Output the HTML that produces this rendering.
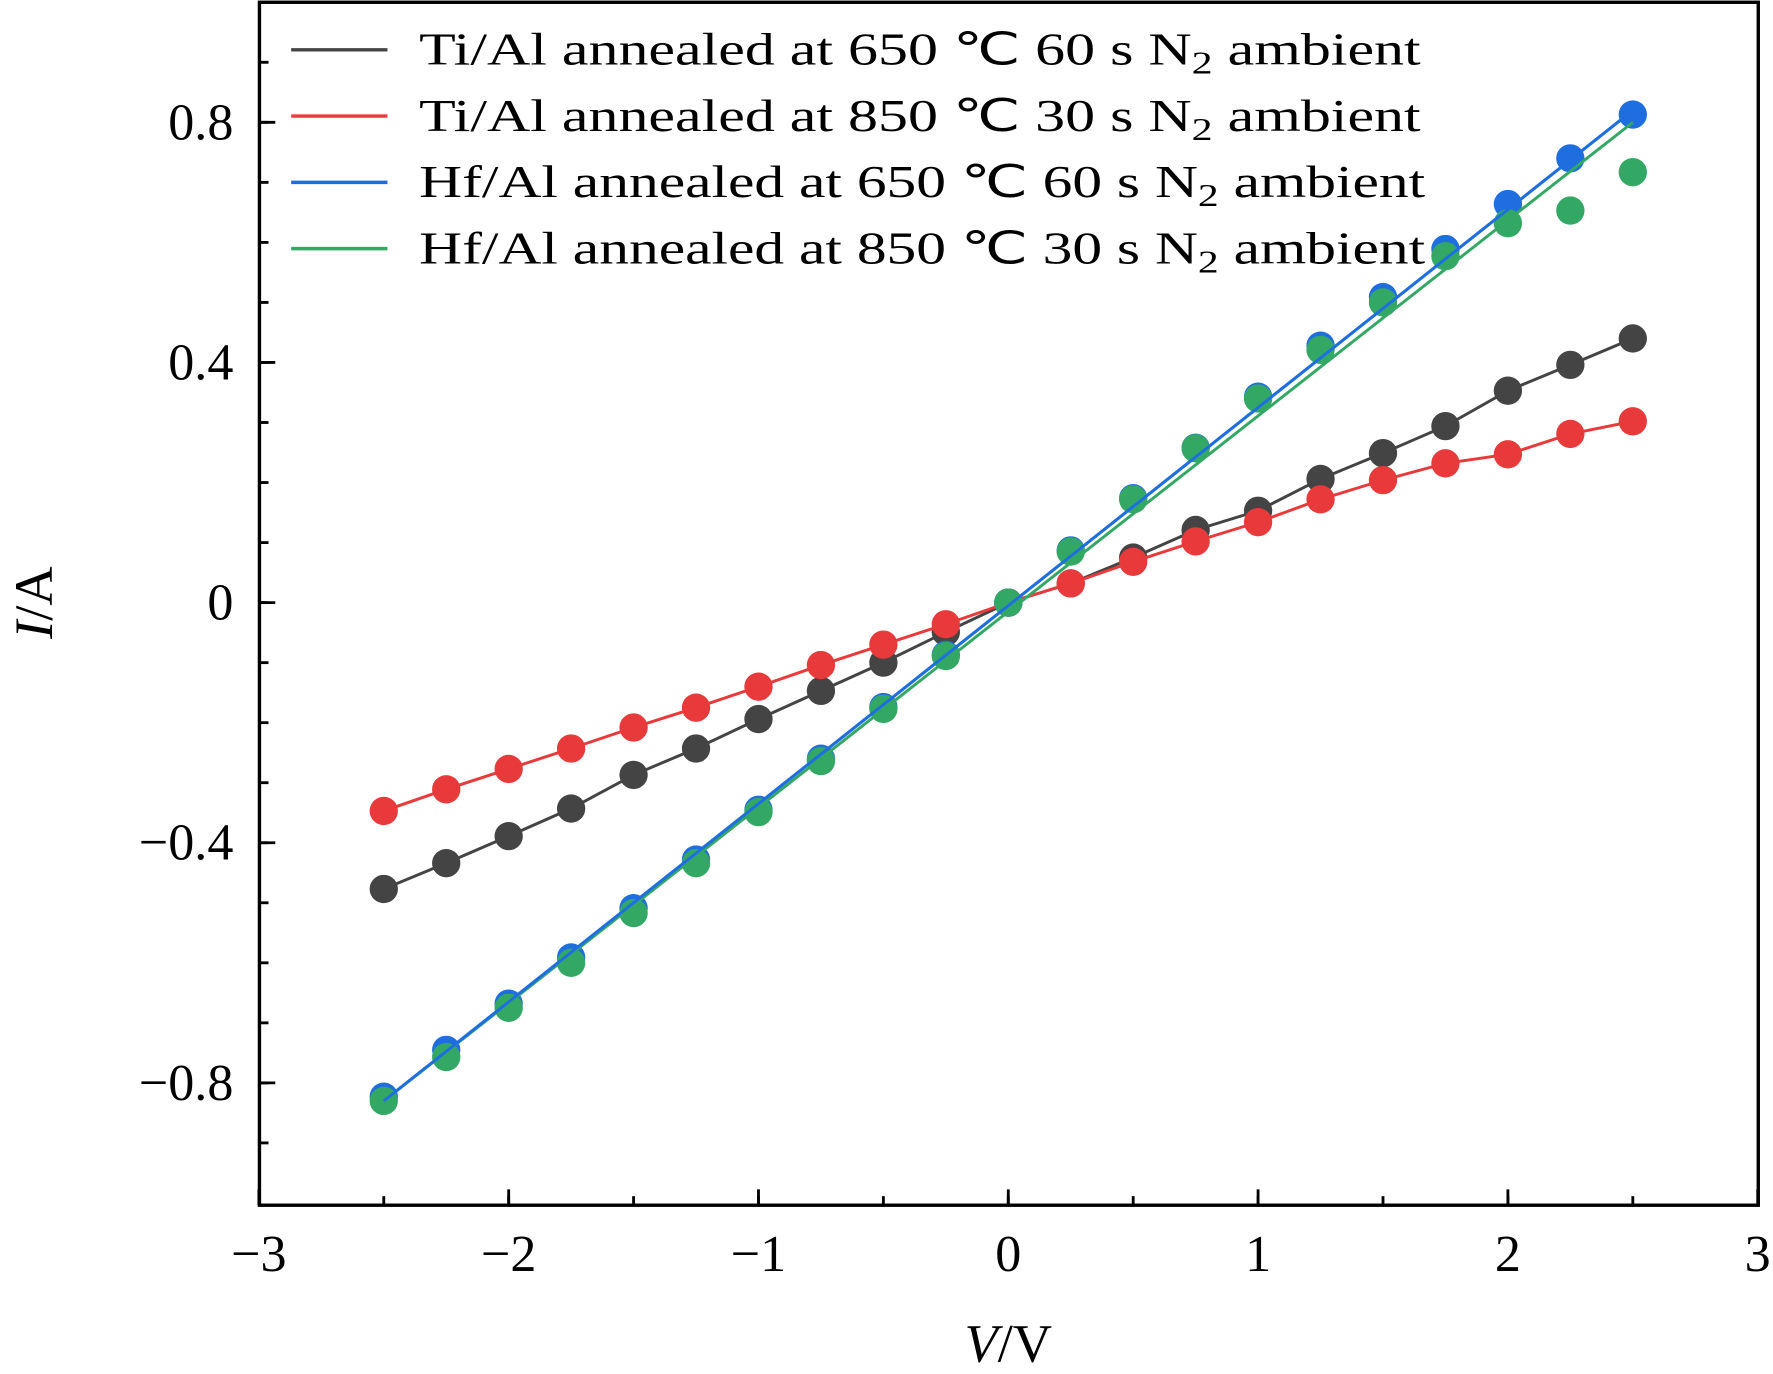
<!DOCTYPE html>
<html><head><meta charset="utf-8"><style>html,body{margin:0;padding:0;background:#fff}svg{display:block}</style></head>
<body>
<svg id="chart" width="1773" height="1374" viewBox="0 0 1565 1213" preserveAspectRatio="none" xmlns="http://www.w3.org/2000/svg" font-family="'Liberation Serif', serif">
</svg>
<script>
const voltages = [-2.5,-2.25,-2,-1.75,-1.5,-1.25,-1,-0.75,-0.5,-0.25,0,0.25,0.5,0.75,1,1.25,1.5,1.75,2,2.25,2.5];
const tiAl650 = [-0.477,-0.434,-0.389,-0.343,-0.287,-0.243,-0.194,-0.147,-0.100,-0.049,0,0.032,0.075,0.121,0.153,0.206,0.249,0.294,0.353,0.396,0.440];
const tiAl850 = [-0.347,-0.311,-0.277,-0.243,-0.208,-0.175,-0.140,-0.104,-0.070,-0.036,0,0.032,0.068,0.102,0.134,0.172,0.204,0.232,0.247,0.281,0.302];
const hfAl650 = [-0.823,-0.745,-0.668,-0.591,-0.509,-0.428,-0.345,-0.260,-0.174,-0.087,0,0.087,0.174,0.258,0.343,0.428,0.509,0.589,0.664,0.740,0.813];
const hfAl850 = [-0.830,-0.757,-0.675,-0.600,-0.517,-0.434,-0.349,-0.264,-0.177,-0.089,0,0.085,0.172,0.257,0.340,0.421,0.500,0.577,0.632,0.653,0.717];
const hf650Fit = [[-2.5,-0.83],[2.5,0.82]];
const hf850Fit = [[-2.5,-0.83],[2.5,0.80]];
const xTicks = [-3,-2,-1,0,1,2,3];
const xTickLabels = ['\u22123','\u22122','\u22121','0','1','2','3'];
const yTicks = [-0.8,-0.4,0,0.4,0.8];
const yTickLabels = ['\u22120.8','\u22120.4','0','0.4','0.8'];
const legendLabels = ['Ti/Al annealed at 650 \u2103 60 s N','Ti/Al annealed at 850 \u2103 30 s N','Hf/Al annealed at 650 \u2103 60 s N','Hf/Al annealed at 850 \u2103 30 s N'];

const L=229,R=1552,T=2,B=1064;
const sx=v=>890+(v)*(R-L)/6;
const sy=v=>532-v*530;
const svg=document.getElementById('chart');
const NS='http://www.w3.org/2000/svg';
function mk(tag,attrs,parent){const e=document.createElementNS(NS,tag);for(const k in attrs)e.setAttribute(k,attrs[k]);(parent||svg).appendChild(e);return e;}

const colors=['#444444','#e8393b','#1f6ee0','#33a864'];
const series=[tiAl650,tiAl850,hfAl650,hfAl850];
const names=['ti-al-650','ti-al-850','hf-al-650','hf-al-850'];
for(let s=0;s<4;s++){
  const g=mk('g',{});
  
  
  series[s].forEach((v,i)=>{
    const c=mk('circle',{cx:sx(voltages[i]),cy:sy(v),r:12.5,fill:colors[s]},g);
    
    
  });
  let pts;
  if(s<2) pts=voltages.map((x,i)=>sx(x)+','+sy(series[s][i])).join(' ');
  else { const f=s==2?hf650Fit:hf850Fit; pts=f.map(p=>sx(p[0])+','+sy(p[1])).join(' '); }
  const pl=mk('polyline',{points:pts,fill:'none',stroke:colors[s],'stroke-width':2.6},g);
  
  
}
{
  const f=hf650Fit;
  const pl=mk('line',{x1:sx(f[0][0]),y1:sy(f[0][1]),x2:sx(f[1][0]),y2:sy(f[1][1]),stroke:colors[2],'stroke-width':2.6});
  
  
}
const fr=mk('rect',{x:L,y:T,width:R-L,height:B-T,fill:'none',stroke:'#000','stroke-width':3});


for(let v=-2.5;v<=2.51;v+=0.5){
  const t=mk('line',{x1:sx(v),y1:B,x2:sx(v),y2:B-8,stroke:'#000','stroke-width':2.5});
  
  
}
xTicks.forEach((v,i)=>{
  const t=mk('line',{x1:sx(v),y1:B,x2:sx(v),y2:B-14,stroke:'#000','stroke-width':2.5});
  
  
  const tx=mk('text',{x:sx(v),y:1122,'font-size':46,'text-anchor':'middle'});
  tx.textContent=xTickLabels[i];
  
  
});
for(let k=-9;k<=9;k++){
  const v=k/10;
  const t=mk('line',{x1:L,y1:sy(v),x2:L+8,y2:sy(v),stroke:'#000','stroke-width':2.5});
  
  
}
yTicks.forEach((v,i)=>{
  const t=mk('line',{x1:L,y1:sy(v),x2:L+14,y2:sy(v),stroke:'#000','stroke-width':2.5});
  
  
  const tx=mk('text',{x:206,y:sy(v)+15,'font-size':46,'text-anchor':'end'});
  tx.textContent=yTickLabels[i];
  
  
});
const xt=mk('text',{x:890,y:1202,'font-size':48,'text-anchor':'middle'});
xt.innerHTML='<tspan font-style="italic">V</tspan>/V';


const yt=mk('text',{x:0,y:0,'font-size':48,'text-anchor':'middle',transform:'translate(46,532) rotate(-90)'});
yt.innerHTML='<tspan font-style="italic">I</tspan>/A';


legendLabels.forEach((lab,i)=>{
  const y=44+i*58.5;
  const g=mk('g',{});
  
  
  mk('line',{x1:257,y1:y,x2:342,y2:y,stroke:colors[i],'stroke-width':3},g);
  const t=mk('text',{x:370,y:y+13,'font-size':40,textLength:(i<2?884:888),lengthAdjust:'spacingAndGlyphs'},g);
  t.innerHTML=lab+'<tspan font-size="28" dy="8">2</tspan><tspan dy="-8"> ambient</tspan>';
});
</script>
</body></html>
